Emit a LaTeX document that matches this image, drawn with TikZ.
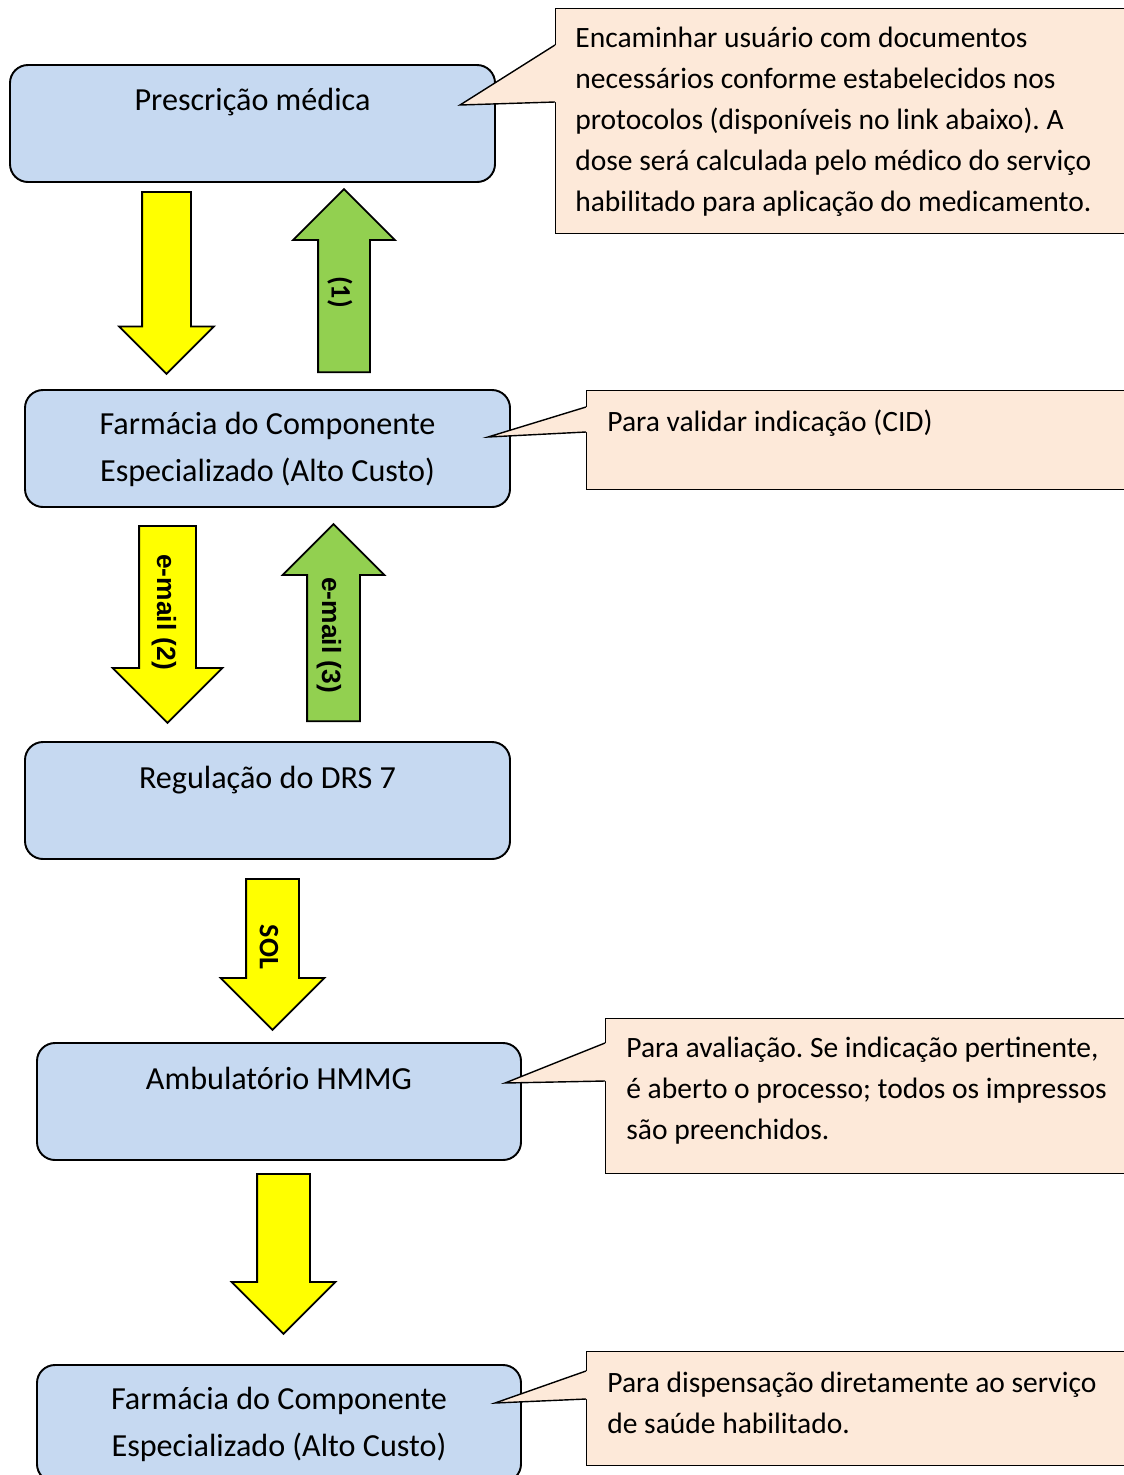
\documentclass[tikz,border=0pt]{standalone}
\usepackage{fontspec}
\setmainfont{Carlito}
\newfontfamily\arialfont{Liberation Sans}
\usetikzlibrary{shapes.arrows,calc,positioning}
\frenchspacing
\definecolor{boxblue}{HTML}{C6D9F1}
\definecolor{notepeach}{HTML}{FDE9D9}
\definecolor{upgreen}{HTML}{92D050}
\definecolor{downyellow}{HTML}{FFFF00}
\tikzset{
  stepbox/.style={draw, line width=1.1pt, fill=boxblue, rounded corners=3.6mm,
    minimum width=97mm, minimum height=23.4mm, inner sep=0pt},
  boxtext/.style={anchor=base, align=center, inner sep=0pt,
    font=\fontsize{18.3}{26.2}\selectfont},
  notebox/.style={draw, line width=0.8pt, fill=notepeach, anchor=north west,
    inner sep=0pt},
  notetext/.style={anchor=base west, align=left, inner sep=0pt,
    font=\fontsize{16.8}{23.3}\selectfont},
  blockarrow/.style={single arrow, draw, line width=1pt, inner xsep=0pt,
    single arrow tip angle=90, anchor=tail},
  downarrow/.style={blockarrow, fill=downyellow, rotate=-90},
  uparrow/.style={blockarrow, fill=upgreen, rotate=90},
  arrowlabel/.style={inner sep=0pt, rotate=-90, font=\bfseries\fontsize{16}{16}\selectfont}
}
% pointer of a note: upper base, tip, lower base
\newcommand\notetail[3]{%
  \fill[notepeach] (#1) -- (#2) -- (#3) -- ($(#3)+(3,0)$) -- ($(#1)+(3,0)$) -- cycle;
  \draw[line width=0.8pt] (#1) -- (#2) -- (#3);}

\begin{document}
\begin{tikzpicture}[x=0.2mm, y=-0.2mm]
  \useasboundingbox (0,0) rectangle (1124,1475);

  % steps (text nodes sit on the baseline of their last line)
  \node[stepbox] (presc) at (252.5,123.5) {};
  \node[boxtext] (presctext) at (252.5,110) {Prescrição médica};

  \node[stepbox] (farm) at (267.5,448.5) {};
  \node[boxtext] (farmtext) at (267.5,481) {Farmácia do Componente\\Especializado (Alto Custo)};

  \node[stepbox] (reg) at (267.5,800.5) {};
  \node[boxtext] (regtext) at (267.5,788) {Regulação do DRS 7};

  \node[stepbox, minimum width=96.8mm] (amb) at (279,1101.5) {};
  \node[boxtext] (ambtext) at (279,1089) {Ambulatório HMMG};

  \node[stepbox, minimum width=96.8mm] (disp) at (279,1423.5) {};
  \node[boxtext] (disptext) at (279,1456) {Farmácia do Componente\\Especializado (Alto Custo)};

  % block arrows
  \node[downarrow, minimum height=36.4mm, inner ysep=4.7mm,
    single arrow head extend=4.6mm] (prescdown) at (166.5,191) {};
  \node[uparrow, minimum height=36.6mm, inner ysep=5mm,
    single arrow head extend=5mm] (prescup) at (344,373) {};
  \node[arrowlabel] (prescuplabel) at (340,292) {(1)};

  \node[downarrow, minimum height=39.4mm, inner ysep=5.5mm,
    single arrow head extend=5.3mm] (farmdown) at (167.5,525) {};
  \node[arrowlabel, font=\arialfont\bfseries\fontsize{15}{15}\selectfont]
    (farmdownlabel) at (164,612) {e-mail (2)};
  \node[uparrow, minimum height=39.4mm, inner ysep=5.1mm,
    single arrow head extend=4.9mm] (farmup) at (333.5,722) {};
  \node[arrowlabel, font=\arialfont\bfseries\fontsize{15}{15}\selectfont]
    (farmuplabel) at (329,635) {e-mail (3)};

  \node[downarrow, minimum height=30.2mm, inner ysep=5.1mm,
    single arrow head extend=5.1mm] (regdown) at (272.5,878) {};
  \node[arrowlabel] (regdownlabel) at (269,947) {SOL};

  \node[downarrow, minimum height=32mm, inner ysep=5.1mm,
    single arrow head extend=5.1mm] (ambdown) at (283.5,1173) {};

  % notes
  \node[notebox, minimum width=117mm, minimum height=45mm] (notepresc) at (555,8) {};
  \coordinate (presctip) at (460,105);
  \notetail{$(notepresc.north west)+(0,37)$}{presctip}{$(notepresc.north west)+(0,94)$}
  \node[notetext] (noteprsctext) at (575,211)
    {Encaminhar usuário com documentos\\necessários conforme estabelecidos nos\\protocolos (disponíveis no link abaixo). A\\dose será calculada pelo médico do serviço\\habilitado para aplicação do medicamento.};

  \node[notebox, minimum width=110.8mm, minimum height=19.8mm] (notefarm) at (586,390) {};
  \coordinate (farmtip) at (488,437);
  \notetail{$(notefarm.north west)+(0,17)$}{farmtip}{$(notefarm.north west)+(0,42)$}
  \node[notetext] (notefarmtext) at (607,431) {Para validar indicação (CID)};

  \node[notebox, minimum width=107mm, minimum height=31mm] (noteamb) at (605,1018) {};
  \coordinate (ambtip) at (505,1083);
  \notetail{$(noteamb.north west)+(0,25)$}{ambtip}{$(noteamb.north west)+(0,63)$}
  \node[notetext] (noteambtext) at (626,1139)
    {Para avaliação. Se indicação pertinente,\\é aberto o processo; todos os impressos\\são preenchidos.};

  \node[notebox, minimum width=110.8mm, minimum height=22.8mm] (notedisp) at (586,1351) {};
  \coordinate (disptip) at (495,1403);
  \notetail{$(notedisp.north west)+(0,20)$}{disptip}{$(notedisp.north west)+(0,48)$}
  \node[notetext] (notedisptext) at (607,1433)
    {Para dispensação diretamente ao serviço\\de saúde habilitado.};
\end{tikzpicture}
\end{document}
